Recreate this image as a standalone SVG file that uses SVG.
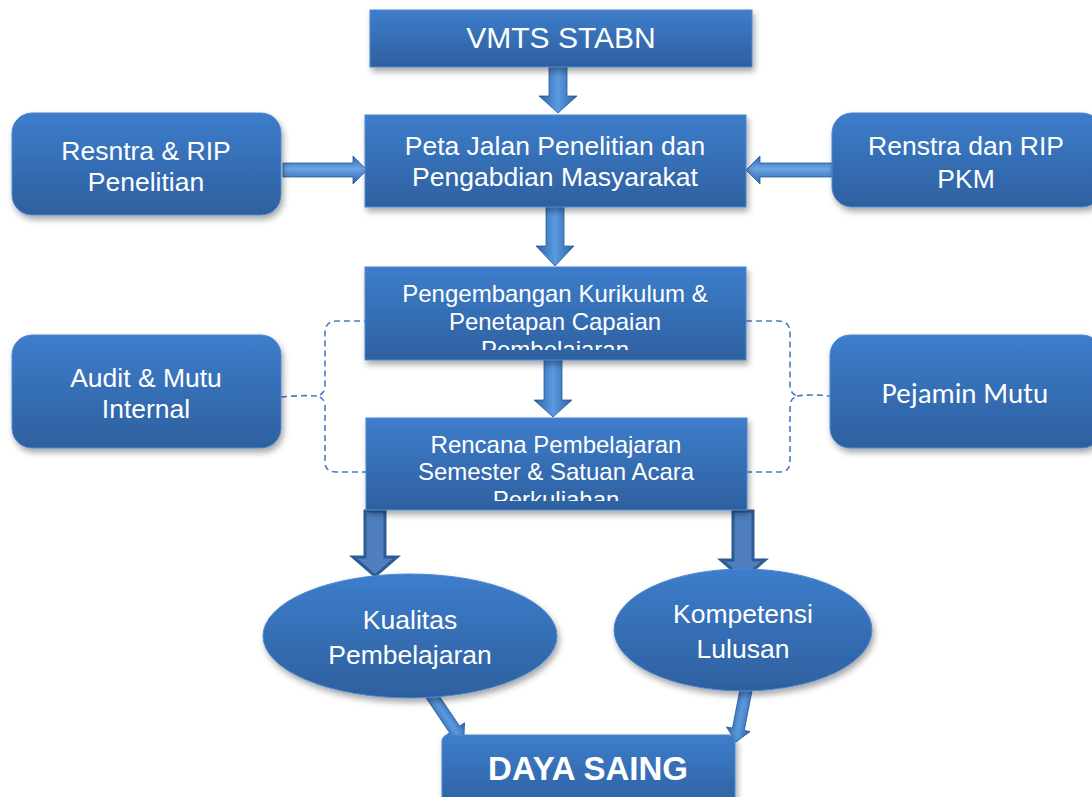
<svg xmlns="http://www.w3.org/2000/svg" width="1092" height="797" viewBox="0 0 1092 797">
<defs>
<linearGradient id="gBox" x1="0" y1="0" x2="0" y2="1">
<stop offset="0" stop-color="#3d7dcb"/>
<stop offset="1" stop-color="#2e609f"/>
</linearGradient>
<linearGradient id="gArrV" x1="0" y1="0" x2="1" y2="0">
<stop offset="0" stop-color="#2f62a6"/>
<stop offset="0.5" stop-color="#5a9ae0"/>
<stop offset="1" stop-color="#2f62a6"/>
</linearGradient>
<linearGradient id="gArrH" x1="0" y1="0" x2="0" y2="1">
<stop offset="0" stop-color="#2f62a6"/>
<stop offset="0.45" stop-color="#6aa6e6"/>
<stop offset="1" stop-color="#2f62a6"/>
</linearGradient>
<filter id="sh" x="-10%" y="-10%" width="125%" height="135%">
<feDropShadow dx="2" dy="4" stdDeviation="3" flood-color="#000" flood-opacity="0.35"/>
</filter>
<clipPath id="c1"><rect x="365" y="267" width="381" height="83"/></clipPath>
<clipPath id="c2"><rect x="366" y="418" width="381" height="83"/></clipPath>
<style>
.box{fill:url(#gBox);stroke:#4c88d2;stroke-width:1;filter:url(#sh)}
.t{font-family:"Liberation Sans",Arial,sans-serif;fill:#fff;text-anchor:middle}
.c{font-family:Carlito,Lato,"Open Sans",sans-serif;fill:#fff;text-anchor:middle}
.dash{fill:none;stroke:#4a7cbc;stroke-width:1.6;stroke-dasharray:6 4}
.av{fill:url(#gArrV);stroke:#2a5a98;stroke-width:0.8}
.ah{fill:url(#gArrH);stroke:#2a5a98;stroke-width:0.8}
.ao{fill:#4f7fbf;stroke:#2d5b93;stroke-width:3}
</style>
</defs>

<g id="connectors">
<polygon class="av" points="549,67 567,67 567,96 577,96 558,113 539,96 549,96"/>
<polygon class="av" points="546,207 564,207 564,246 574,246 555,266 536,246 546,246"/>
<polygon class="av" points="544,360 562,360 562,400 572,400 553,417 534,400 544,400"/>
<polygon class="ah" points="283,163 353,163 353,156 367,170 353,184 353,177 283,177"/>
<polygon class="ah" points="832,163 760,163 760,156 746,170 760,184 760,177 832,177"/>
<polygon class="ao" points="365,511 385,511 385,557 397,557 375,576 353,557 365,557"/>
<polygon class="ao" points="733,511 753,511 753,560 765,560 743,579 721,560 733,560"/>
<polygon class="av" transform="translate(430,693) rotate(-34)" points="-6,0 6,0 6,44 12,44 0,60 -12,44 -6,44"/>
<polygon class="av" transform="translate(746,690) rotate(11)" points="-6,0 6,0 6,40 12,40 0,53 -12,40 -6,40"/>
<path class="dash" d="M370,321 L336,321 Q325,322 325,332 L325,386 Q325,393 318,396 Q325,399 325,406 L325,462 Q325,472 336,472 L370,472"/>
<path class="dash" d="M281,397 Q300,395 318,396"/>
<path class="dash" d="M746,321 L779,321 Q790,322 790,332 L790,386 Q790,393 797,396 Q790,399 790,406 L790,462 Q790,472 779,472 L746,472"/>
<path class="dash" d="M797,396 Q812,394 830,396"/>
</g>

<g id="n-vmts">
<rect class="box" x="370" y="10" width="382" height="57"/>
<text class="t" x="561" y="48" font-size="30">VMTS STABN</text>
</g>

<g id="n-peta">
<rect class="box" x="365" y="115" width="381" height="92"/>
<text class="t" x="555" y="155" font-size="26.5">Peta Jalan Penelitian dan</text>
<text class="t" x="555" y="186" font-size="26.5">Pengabdian Masyarakat</text>
</g>

<g id="n-resntra">
<rect class="box" x="12" y="113" width="269" height="102" rx="20"/>
<text class="t" x="146" y="160" font-size="26.5">Resntra &amp; RIP</text>
<text class="t" x="146" y="191" font-size="26.5">Penelitian</text>
</g>

<g id="n-renstra">
<rect class="box" x="832" y="113" width="270" height="94" rx="20"/>
<text class="t" x="966" y="155" font-size="26.5">Renstra dan RIP</text>
<text class="t" x="966" y="188" font-size="26.5">PKM</text>
</g>

<g id="n-kurikulum">
<rect class="box" x="365" y="267" width="381" height="93"/>
<g clip-path="url(#c1)">
<text class="t" x="555" y="302" font-size="24">Pengembangan Kurikulum &amp;</text>
<text class="t" x="555" y="330" font-size="24">Penetapan Capaian</text>
<text class="t" x="555" y="358" font-size="24">Pembelajaran</text>
</g>
</g>

<g id="n-rps">
<rect class="box" x="366" y="418" width="381" height="92"/>
<g clip-path="url(#c2)">
<text class="t" x="556" y="453" font-size="24">Rencana Pembelajaran</text>
<text class="t" x="556" y="480" font-size="24">Semester &amp; Satuan Acara</text>
<text class="t" x="556" y="508" font-size="24">Perkuliahan</text>
</g>
</g>

<g id="n-audit">
<rect class="box" x="12" y="335" width="269" height="113" rx="20"/>
<text class="t" x="146" y="387" font-size="26.5">Audit &amp; Mutu</text>
<text class="t" x="146" y="418" font-size="26.5">Internal</text>
</g>

<g id="n-pejamin">
<rect class="box" x="830" y="335" width="272" height="113" rx="20"/>
<text class="c" x="965" y="403" font-size="29">Pejamin Mutu</text>
</g>

<g id="n-kualitas">
<ellipse class="box" cx="410" cy="636" rx="147" ry="62"/>
<text class="t" x="410" y="629" font-size="26.5">Kualitas</text>
<text class="t" x="410" y="664" font-size="26.5">Pembelajaran</text>
</g>

<g id="n-kompetensi">
<ellipse class="box" cx="743" cy="630" rx="129" ry="61"/>
<text class="t" x="743" y="623" font-size="26.5">Kompetensi</text>
<text class="t" x="743" y="658" font-size="26.5">Lulusan</text>
</g>

<g id="n-daya">
<rect class="box" x="442" y="735" width="293" height="75" rx="6"/>
<text class="t" x="588" y="780" font-size="33" font-weight="bold">DAYA SAING</text>
</g>
</svg>
